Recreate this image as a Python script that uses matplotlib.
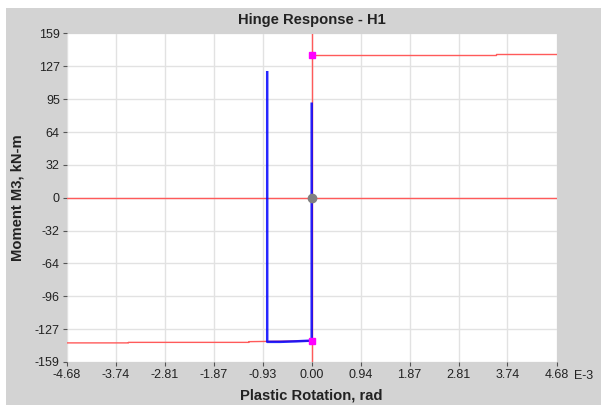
import matplotlib
matplotlib.use("Agg")
import matplotlib.pyplot as plt
from matplotlib.patches import Rectangle
from matplotlib.ticker import FixedLocator, FixedFormatter

plt.rcParams['font.family'] = ['Liberation Sans', 'DejaVu Sans']

# Data (rotation in units of 1e-3 rad, moment in kN-m)
x_ticks = [-4.68, -3.74, -2.81, -1.87, -0.93, 0.00, 0.94, 1.87, 2.81, 3.74, 4.68]
x_tick_labels = ["-4.68", "-3.74", "-2.81", "-1.87", "-0.93", "0.00", "0.94", "1.87", "2.81", "3.74", "4.68"]
y_ticks = [-159, -127.2, -95.4, -63.6, -31.8, 0, 31.8, 63.6, 95.4, 127.2, 159]
y_tick_labels = ["-159", "-127", "-96", "-64", "-32", "0", "32", "64", "95", "127", "159"]

backbone_neg_x = [-4.68, -3.5, -3.5, -1.2, -1.2, 0.0]
backbone_neg_y = [-140.5, -140.5, -140.0, -140.0, -139.3, -138.5]
backbone_pos_x = [0.0, 1.16, 1.16, 3.53, 3.53, 4.68]
backbone_pos_y = [138.0, 138.0, 138.6, 138.6, 139.3, 139.3]
elastic_x = [0.0, 0.0]
elastic_y = [-159, 159]
zero_x = [-4.68, 4.68]
zero_y = [0, 0]

response_x = [-0.85, -0.85, -0.6, -0.3, 0.0, 0.0]
response_y = [121.5, -139.5, -139.5, -139.0, -138.3, 91.0]

limit_x = [0.0, 0.0]
limit_y = [138.0, -138.5]
origin_x = [0.0]
origin_y = [0.0]

fig = plt.figure(figsize=(6.01, 4.05), dpi=100)
W, H = 601, 405
fig.patches.append(Rectangle((6 / W, 0), 1 - 6 / W, (H - 8) / H, transform=fig.transFigure,
                             facecolor='#d3d3d3', edgecolor='none', zorder=-10))

ax = fig.add_axes([66.7 / W, (H - 362) / H, (556.7 - 66.7) / W, (362 - 33.5) / H])
ax.set_facecolor('white')
ax.set_xlim(-4.68, 4.68)
ax.set_ylim(-159, 159)

for s in ax.spines.values():
    s.set_visible(False)

ax.xaxis.set_major_locator(FixedLocator(x_ticks))
ax.xaxis.set_major_formatter(FixedFormatter(x_tick_labels))
ax.yaxis.set_major_locator(FixedLocator(y_ticks))
ax.yaxis.set_major_formatter(FixedFormatter(y_tick_labels))
ax.grid(True, color='#e2e2e2', linewidth=1.0, zorder=0)
ax.set_axisbelow(True)
ax.tick_params(axis='both', direction='out', length=3, width=0.8, color='#555555',
               labelsize=9, labelcolor='#222222', pad=2)

red = '#ff5a5a'
ax.plot(zero_x, zero_y, color=red, lw=1.0, zorder=2)
ax.plot(elastic_x, elastic_y, color=red, lw=1.0, zorder=2)
ax.plot(backbone_neg_x, backbone_neg_y, color=red, lw=1.0, zorder=2)
ax.plot(backbone_pos_x, backbone_pos_y, color=red, lw=1.0, zorder=2)

ax.plot(response_x, response_y, color='#0000ff', lw=1.8, zorder=3, alpha=0.85)

ax.plot(limit_x, limit_y, linestyle='none', marker='s', markersize=5,
        color='#ff00ff', zorder=5, clip_on=False)
ax.plot(origin_x, origin_y, linestyle='none', marker='o', markersize=6,
        color='#808080', zorder=5)

fig.text(311.7 / W, 1 - 20 / H, "Hinge Response - H1", ha='center', va='center',
         fontsize=10.6, fontweight='bold', color='#222222')
fig.text(311.7 / W, 1 - 396 / H, "Plastic Rotation, rad", ha='center', va='center',
         fontsize=10.6, fontweight='bold', color='#222222')
fig.text(18 / W, 1 - 197.6 / H, "Moment M3, kN-m", ha='center', va='center', rotation=90,
         fontsize=10.6, fontweight='bold', color='#222222')
fig.text(574 / W, 1 - 376 / H, "E-3", ha='left', va='center', fontsize=9, color='#222222')

fig.savefig("out.png", dpi=100)
